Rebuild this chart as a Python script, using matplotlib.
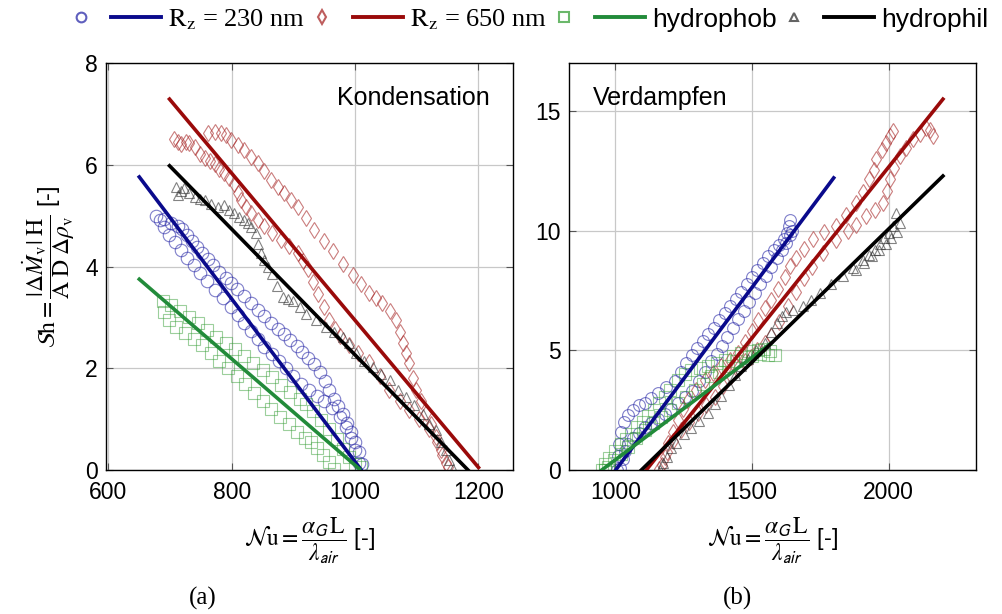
import numpy as np
import matplotlib
matplotlib.use('Agg')
import matplotlib.pyplot as plt
from matplotlib.lines import Line2D
from matplotlib.legend_handler import HandlerTuple

plt.rcParams['font.family'] = ['Liberation Sans', 'DejaVu Sans']
plt.rcParams['mathtext.fontset'] = 'stix'

# ---------------- Kondensation (a) ----------------
# R_z = 230 nm, circles (outer branch down, inner branch back up)
k_blue_x = [677, 690, 701, 712, 720, 728, 736, 744, 752, 761, 770, 780, 790, 799, 809, 820, 831, 842, 853, 864,
            875, 885, 895, 905, 914, 924, 934, 943, 951, 958, 965, 972, 980, 987, 994, 1000, 1006, 1011,
            1007, 1000, 993, 985, 975, 963, 950, 938, 925, 912, 900, 888, 876, 865, 853, 842, 831, 820, 810,
            799, 786, 772, 760, 748, 738, 728, 718, 708, 698, 690, 683]
k_blue_y = [5.00, 4.93, 4.85, 4.80, 4.74, 4.62, 4.50, 4.38, 4.26, 4.14, 4.02, 3.90, 3.78, 3.67, 3.55, 3.42, 3.28,
            3.15, 3.02, 2.89, 2.77, 2.68, 2.56, 2.44, 2.32, 2.20, 2.08, 1.92, 1.75, 1.57, 1.40, 1.25, 1.10, 0.92,
            0.74, 0.55, 0.35, 0.12,
            0.13, 0.40, 0.62, 0.85, 1.05, 1.22, 1.35, 1.45, 1.58, 1.70, 1.85, 2.00, 2.15, 2.28, 2.42, 2.58, 2.73,
            2.89, 3.05, 3.21, 3.38, 3.54, 3.72, 3.88, 4.02, 4.16, 4.33, 4.48, 4.62, 4.78, 4.92]

# R_z = 650 nm, diamonds
k_red_x = [707, 712, 718, 725, 731, 740, 748, 756, 764, 772, 780, 788, 796, 804, 810, 815, 823, 831, 842, 853,
           866, 880, 893, 907, 916, 923, 931, 940, 949, 958, 967, 976, 990, 1005, 1023, 1040, 1055, 1072, 1088,
           1104, 1120, 1132, 1141, 1150,
           1148, 1140, 1131, 1123, 1115, 1107, 1099, 1094, 1088, 1083, 1077, 1072, 1067, 1056, 1044, 1034, 1023,
           1010, 996, 980, 964, 950, 934, 920, 907, 896, 885, 875, 864, 853, 842, 831, 820, 810, 799, 790, 783,
           772, 761]
k_red_y = [6.50, 6.45, 6.40, 6.44, 6.43, 6.35, 6.22, 6.14, 6.08, 6.02, 5.92, 5.83, 5.73, 5.62, 5.45, 5.30, 5.17,
           5.05, 4.92, 4.80, 4.65, 4.52, 4.40, 4.26, 4.10, 3.95, 3.70, 3.45, 3.20, 2.95, 2.78, 2.64, 2.45, 2.30,
           2.12, 1.85, 1.58, 1.36, 1.18, 1.00, 0.80, 0.55, 0.30, 0.05,
           0.14, 0.40, 0.65, 0.90, 1.12, 1.35, 1.57, 1.80, 2.10, 2.30, 2.49, 2.72, 2.95, 3.12, 3.28, 3.38, 3.48,
           3.65, 3.84, 4.05, 4.30, 4.50, 4.72, 4.95, 5.17, 5.30, 5.44, 5.57, 5.70, 5.87, 6.03, 6.16, 6.29, 6.39,
           6.48, 6.58, 6.62, 6.64, 6.62]

# hydrophob, squares
k_green_x = [688, 702, 716, 730, 745, 760, 775, 790, 805, 820, 835, 850, 865, 880, 895, 910, 920, 932, 945, 958,
             970, 980, 990, 1000, 1010,
             966, 958, 948, 938, 928, 918, 905, 892, 878, 864, 850, 836, 822, 808, 794, 780, 766, 752, 738, 724,
             710, 698, 690]
k_green_y = [3.33, 3.25, 3.12, 3.00, 2.88, 2.76, 2.62, 2.50, 2.38, 2.24, 2.10, 1.96, 1.82, 1.68, 1.53, 1.40, 1.30,
             1.15, 0.98, 0.80, 0.60, 0.42, 0.25, 0.12, 0.05,
             0.02, 0.15, 0.30, 0.44, 0.55, 0.62, 0.75, 0.90, 1.05, 1.20, 1.35, 1.52, 1.70, 1.85, 2.00, 2.15, 2.30,
             2.45, 2.58, 2.70, 2.82, 2.95, 3.10]

# hydrophil, triangles
k_black_x = [710, 713, 718, 723, 731, 740, 748, 756, 766, 777, 788, 796, 804, 812, 820, 826, 831, 839, 843, 847,
             852, 858, 866, 874, 883, 891, 899, 910, 921, 937, 953, 966, 980, 990, 1002, 1015, 1029, 1042, 1056,
             1070, 1083, 1096, 1110, 1120, 1131, 1140, 1148, 1153, 1158]
k_black_y = [5.57, 5.40, 5.48, 5.54, 5.45, 5.37, 5.33, 5.30, 5.23, 5.17, 5.21, 5.12, 5.05, 4.98, 4.91, 4.85, 4.78,
             4.65, 4.45, 4.26, 4.12, 3.99, 3.86, 3.62, 3.40, 3.36, 3.33, 3.20, 3.07, 2.95, 2.81, 2.72, 2.61, 2.49,
             2.29, 2.15, 2.03, 1.88, 1.76, 1.58, 1.44, 1.27, 1.11, 0.90, 0.78, 0.55, 0.39, 0.20, 0.02]

# fit lines (end points)
k_fit_blue = ([650, 1010], [5.76, 0.0])
k_fit_red = ([699, 1200], [7.29, 0.05])
k_fit_green = ([650, 1007], [3.75, 0.02])
k_fit_black = ([699, 1183], [5.98, 0.0])

# ---------------- Verdampfen (b) ----------------
v_blue_x = [1004, 1008, 1014, 1020, 1030, 1045, 1065, 1085, 1107, 1130, 1156, 1185, 1217, 1240, 1260, 1280, 1300,
            1320, 1340, 1360, 1380, 1400, 1420, 1440, 1460, 1480, 1500, 1520, 1540, 1560, 1580, 1600, 1618, 1628,
            1635, 1640,
            1645, 1638, 1625, 1610, 1590, 1570, 1550, 1530, 1510, 1490, 1470, 1450, 1430, 1410, 1390, 1370, 1350,
            1327, 1305, 1280, 1254, 1230, 1205, 1180, 1155, 1130, 1107, 1085, 1065, 1046, 1035, 1026, 1015]
v_blue_y = [0.0, 0.6, 1.1, 1.6, 2.0, 2.3, 2.5, 2.7, 2.8, 3.0, 3.2, 3.45, 3.7, 4.1, 4.45, 4.8, 5.1, 5.4, 5.7, 5.95,
            6.25, 6.55, 6.85, 7.15, 7.45, 7.75, 8.05, 8.35, 8.65, 8.95, 9.2, 9.4, 9.63, 9.9, 10.2, 10.46,
            10.0, 9.8, 9.5, 9.2, 8.85, 8.5, 8.1, 7.75, 7.4, 7.0, 6.65, 6.3, 5.95, 5.55, 5.2, 4.85, 4.55, 4.1, 3.7,
            3.3, 3.05, 2.8, 2.55, 2.35, 2.15, 1.95, 1.8, 1.55, 1.35, 1.1, 0.8, 0.45, 0.1]

v_red_x = [1160, 1180, 1193, 1210, 1229, 1248, 1266, 1295, 1327, 1358, 1388, 1420, 1449, 1475, 1500, 1522, 1547,
           1571, 1595, 1620, 1638, 1660, 1690, 1723, 1765, 1809, 1845, 1882, 1905, 1930, 1945, 1955, 1975, 1991,
           2005, 2016,
           2162, 2150, 2138, 2115, 2089, 2065, 2040, 2020, 2004, 1995, 1979, 1950, 1918, 1880, 1850, 1809, 1760,
           1720, 1690, 1660, 1630, 1600, 1571, 1546, 1520, 1498, 1475, 1450, 1424, 1395, 1363, 1332, 1302, 1270,
           1241, 1210, 1190, 1172]
v_red_y = [0.05, 0.55, 1.12, 1.60, 2.09, 2.55, 2.93, 3.35, 3.77, 4.05, 4.33, 4.60, 4.88, 5.35, 5.80, 6.28, 6.75,
           7.12, 7.55, 8.05, 8.51, 8.85, 9.25, 9.63, 9.95, 10.19, 10.65, 11.16, 11.60, 12.14, 12.55, 12.98, 13.35,
           13.67, 13.95, 14.16,
           13.95, 14.20, 14.30, 14.05, 13.81, 13.45, 13.12, 12.60, 12.14, 11.65, 11.16, 10.85, 10.60, 10.25,
           10.00, 9.60, 9.05, 8.50, 8.00, 7.45, 6.85, 6.20, 5.60, 5.30, 5.00, 4.74, 4.55, 4.25, 3.91, 3.50, 3.07,
           2.70, 2.37, 2.00, 1.67, 1.20, 0.75, 0.20]

v_green_x = [949, 960, 975, 998, 1020, 1040, 1058, 1080, 1100, 1120, 1140, 1160, 1180, 1200, 1229, 1255, 1278,
             1310, 1339, 1370, 1400, 1430, 1461, 1490, 1522, 1545, 1565, 1583,
             1560, 1530, 1500, 1473, 1440, 1412, 1380, 1351, 1320, 1290, 1260, 1229, 1200, 1168, 1138, 1107,
             1077, 1046, 1020, 995, 973, 960]
v_green_y = [0.0, 0.25, 0.5, 0.8, 1.1, 1.3, 1.5, 1.8, 2.0, 2.25, 2.5, 2.8, 3.07, 3.35, 3.77, 4.0, 4.19, 4.28, 4.35,
             4.48, 4.60, 4.75, 4.88, 4.95, 5.02, 5.05, 4.95, 4.80,
             4.80, 4.85, 4.75, 4.74, 4.55, 4.33, 4.10, 3.91, 3.60, 3.35, 3.05, 2.79, 2.50, 2.23, 1.95, 1.67, 1.35,
             0.98, 0.65, 0.40, 0.14, 0.0]

v_black_x = [1162, 1175, 1187, 1205, 1223, 1250, 1278, 1305, 1339, 1365, 1388, 1415, 1437, 1460, 1485, 1515, 1546,
             1570, 1590, 1610, 1626, 1650, 1687, 1715, 1748, 1790, 1833, 1870, 1906, 1930, 1950, 1967, 1985, 2000,
             2016, 2028, 2040, 2030, 2010, 1990, 1965, 1940, 1910, 1880]
v_black_y = [0.0, 0.3, 0.56, 0.9, 1.12, 1.5, 1.75, 2.05, 2.4, 2.75, 3.1, 3.55, 3.95, 4.35, 4.65, 5.0, 5.30, 5.75,
             6.15, 6.45, 6.60, 6.70, 6.84, 7.10, 7.39, 7.75, 8.09, 8.45, 8.79, 9.0, 9.2, 9.45, 9.7, 9.9, 10.19,
             10.74, 10.33, 9.95, 9.7, 9.45, 9.2, 8.95, 8.65, 8.35]

v_fit_blue = ([1001, 1799], [0.0, 12.2])
v_fit_red = ([1113, 2199], [0.0, 15.49])
v_fit_green = ([950, 1570], [0.0, 5.3])
v_fit_black = ([1095, 2199], [0.0, 12.28])

legend_labels = [r'$\mathrm{R_z}$ = 230 nm', r'$\mathrm{R_z}$ = 650 nm', 'hydrophob', 'hydrophil']

# colours
c_blue_m, c_blue_l = '#2a2aa8', '#0a0a8c'
c_red_m, c_red_l = '#a82828', '#9a0a0a'
c_green_m, c_green_l = '#3aa03a', '#228b3a'
c_black_m, c_black_l = '#303030', '#000000'

fig = plt.figure(figsize=(10.03, 6.14), dpi=100)
ax1 = fig.add_axes([106/1003, 1 - 470/614, 407/1003, 407/614])
ax2 = fig.add_axes([569/1003, 1 - 470/614, 407/1003, 407/614])


def markers(ax, x, y, mk, col, ms, a):
    ax.plot(x, y, ls='none', marker=mk, mfc='none', mec=col, ms=ms, mew=0.8, alpha=a, zorder=2)


markers(ax1, k_blue_x, k_blue_y, 'o', c_blue_m, 9, 0.6)
markers(ax1, k_red_x, k_red_y, 'd', c_red_m, 8, 0.6)
markers(ax1, k_green_x, k_green_y, 's', c_green_m, 8, 0.5)
markers(ax1, k_black_x, k_black_y, '^', c_black_m, 7, 0.6)
for (fx, fy), c in [(k_fit_blue, c_blue_l), (k_fit_red, c_red_l), (k_fit_green, c_green_l), (k_fit_black, c_black_l)]:
    ax1.plot(fx, fy, color=c, lw=2.6, zorder=3)

markers(ax2, v_blue_x, v_blue_y, 'o', c_blue_m, 8.5, 0.6)
markers(ax2, v_red_x, v_red_y, 'd', c_red_m, 8, 0.6)
markers(ax2, v_green_x, v_green_y, 's', c_green_m, 8, 0.5)
markers(ax2, v_black_x, v_black_y, '^', c_black_m, 7, 0.6)
for (fx, fy), c in [(v_fit_blue, c_blue_l), (v_fit_red, c_red_l), (v_fit_green, c_green_l), (v_fit_black, c_black_l)]:
    ax2.plot(fx, fy, color=c, lw=2.6, zorder=3)

ax1.set_xlim(596, 1256)
ax1.set_ylim(0, 8)
ax1.set_xticks([600, 800, 1000, 1200])
ax1.set_yticks([0, 2, 4, 6, 8])
ax2.set_xlim(830, 2320)
ax2.set_ylim(0, 17)
ax2.set_xticks([1000, 1500, 2000])
ax2.set_yticks([0, 5, 10, 15])

xlab = r'$\mathcal{N}\mathrm{u} = \dfrac{\alpha_{\mathsf{G}}\,\mathrm{L}}{\lambda_{\mathsf{air}}}$ [-]'
for ax in (ax1, ax2):
    ax.grid(True, color='#c8c8c8', lw=0.9)
    ax.set_axisbelow(True)
    ax.tick_params(direction='in', top=True, right=True, length=5, width=0.8,
                   labelsize=16.5, color='#555555')
    ax.tick_params(axis='x', pad=8)
    ax.tick_params(axis='y', pad=6)
    for s in ax.spines.values():
        s.set_linewidth(1.0)
    ax.set_xlabel(xlab, fontsize=17, labelpad=8)

ax1.set_ylabel(r'$\mathcal{S}\mathrm{h} = \dfrac{|\Delta \dot{M}_{\mathrm{v}}|\;\mathrm{H}}{\mathrm{A}\;\mathrm{D}\;\Delta\rho_{\mathrm{v}}}$ [-]',
               fontsize=17, labelpad=6)

ax1.text(0.943, 0.915, 'Kondensation', transform=ax1.transAxes, ha='right', va='center', fontsize=18)
ax2.text(0.059, 0.915, 'Verdampfen', transform=ax2.transAxes, ha='left', va='center', fontsize=18)

fig.text(203/1003, 1 - 598/614, '(a)', ha='center', va='center', fontsize=18, family='Liberation Serif')
fig.text(738/1003, 1 - 598/614, '(b)', ha='center', va='center', fontsize=18, family='Liberation Serif')


# legend: marker + line pairs
def pair(mk, cm, cl, ms):
    m = Line2D([], [], ls='none', marker=mk, mfc='none', mec=cm, ms=ms, mew=1.5, alpha=0.75)
    l = Line2D([], [], color=cl, lw=2.8)
    return (m, l)


handles = [pair('o', c_blue_m, c_blue_l, 7), pair('d', c_red_m, c_red_l, 7),
           pair('s', c_green_m, c_green_l, 7), pair('^', c_black_m, c_black_l, 6)]
leg = fig.legend(handles, legend_labels, handler_map={tuple: HandlerTuple(ndivide=None, pad=0.2)},
                 loc='center', bbox_to_anchor=(522/1003, 1 - 20/614), ncol=4, frameon=False,
                 handlelength=4.0, handletextpad=0.27, columnspacing=-0.3, fontsize=19)
for t in leg.get_texts()[:2]:
    t.set_family('Liberation Serif')

fig.savefig('out.png', dpi=100)
